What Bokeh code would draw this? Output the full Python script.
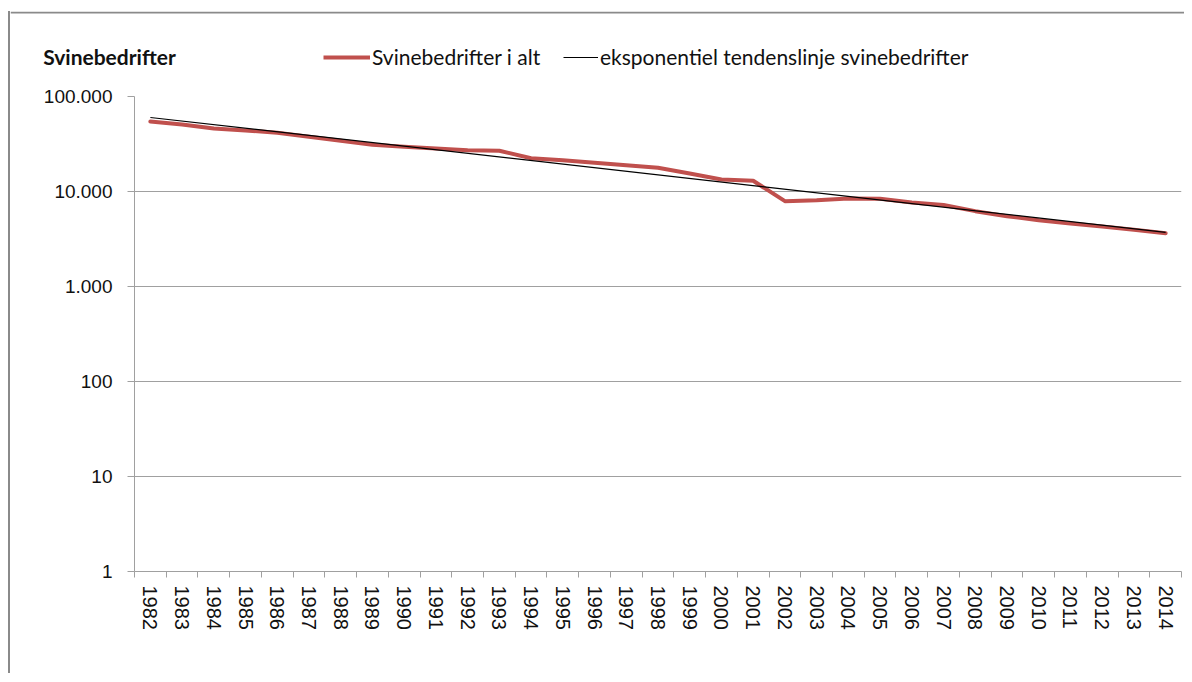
from bokeh.plotting import figure
from bokeh.layouts import column
from bokeh.models import Range1d, FixedTicker, Legend, LegendItem, Label, Span
from bokeh.embed import file_html
from bokeh.resources import INLINE

# ---- data ----
years = list(range(1982, 2015))
svinebedrifter = [54550, 50740, 46030, 43850, 41500, 37670, 34200, 31010, 29540, 28350,
                  27210, 26820, 22410, 21350, 20050, 18920, 17770, 15470, 13380, 12960,
                  7910, 8100, 8440, 8380, 7660, 7210, 6210, 5500, 4990, 4610, 4280, 3950, 3640]
trend_years = [1982, 2014]
trend_values = [60100, 3720]
y_ticks = [1, 10, 100, 1000, 10000, 100000]
y_tick_labels = ["1", "10", "100", "1.000", "10.000", "100.000"]
series_label = "Svinebedrifter i alt"
trend_label = "eksponentiel tendenslinje svinebedrifter"
axis_title = "Svinebedrifter"

GRAY = "#a0a0a0"
TXT = "#111111"
RED = "#c0504d"
BCOL = "#8a8a8a"
BORDER = "2px solid " + BCOL
W = 1176
HEAD_H = 71

# ---------------- header strip: axis title + legend ----------------
head = figure(width=W, height=HEAD_H, x_range=Range1d(0, W), y_range=Range1d(0, HEAD_H),
              x_axis_location=None, y_axis_location=None,
              output_backend="svg", toolbar_location=None,
              min_border_left=0, min_border_right=0, min_border_top=0, min_border_bottom=0)
head.frame_align = False
head.outline_line_color = None
head.grid.visible = False
head.styles = {"border-left": BORDER}
head.margin = (11, 0, 0, 8)
# chart-area top border
head.add_layout(Span(location=HEAD_H - 1, dimension="width", line_color=BCOL, line_width=2))

# legend keys (the real series, clipped out of this strip's range)
k_main = head.line(years, svinebedrifter, line_color=RED, line_width=4)
k_trend = head.line(trend_years, trend_values, line_color="black", line_width=1.2)

head.add_layout(Label(x=32.7, y=26, text=axis_title, text_font="Lato",
                      text_font_style="bold", text_font_size="21px",
                      text_color=TXT, text_baseline="alphabetic"))

def mk_leg(label, rend, loc, gw):
    return Legend(items=[LegendItem(label=label, renderers=[rend])],
                  location=loc, glyph_width=gw, glyph_height=20,
                  label_standoff=2, padding=0, margin=0, spacing=0,
                  border_line_color=None, background_fill_alpha=0,
                  label_text_font="Lato", label_text_font_size="21px",
                  label_text_color=TXT, label_height=20)

head.add_layout(mk_leg(series_label, k_main, (313, 13), 47))
head.add_layout(mk_leg(trend_label, k_trend, (553, 13), 35))

# ---------------- main chart ----------------
p = figure(width=W, height=591,
           x_range=Range1d(years[0] - 0.5, years[-1] + 0.5),
           y_range=Range1d(y_ticks[0], y_ticks[-1]),
           y_axis_type="log",
           output_backend="svg", toolbar_location=None,
           min_border_left=124, min_border_right=5,
           min_border_top=14, min_border_bottom=102)
p.frame_align = False
p.styles = {"border-left": BORDER}
p.margin = (0, 0, 0, 8)
p.outline_line_color = None

yt = FixedTicker(ticks=y_ticks, minor_ticks=[])
p.xgrid.grid_line_color = None
p.ygrid.ticker = yt
p.ygrid.grid_line_color = GRAY
p.ygrid.grid_line_width = 1

ya = p.yaxis[0]
ya.ticker = yt
ya.major_label_overrides = dict(zip(y_ticks, y_tick_labels))
ya.axis_line_color = GRAY
ya.major_tick_line_color = GRAY
ya.major_tick_out = 7
ya.major_tick_in = 0
ya.minor_tick_out = 0
ya.minor_tick_in = 0
ya.major_label_standoff = 15
ya.major_label_text_font = "Liberation Sans"
ya.major_label_text_font_size = "19px"
ya.major_label_text_color = TXT

xa = p.xaxis[0]
xa.ticker = FixedTicker(ticks=years,
                        minor_ticks=[y - 0.5 for y in years] + [years[-1] + 0.5])
xa.axis_line_color = GRAY
xa.major_tick_out = 0
xa.major_tick_in = 0
xa.major_tick_line_color = None
xa.minor_tick_out = 6
xa.minor_tick_in = 0
xa.minor_tick_line_color = GRAY
xa.major_label_orientation = "vertical"
xa.major_label_standoff = 8
xa.major_label_text_font = "Liberation Sans"
xa.major_label_text_font_size = "20px"
xa.major_label_text_color = TXT

r_main = p.line(years, svinebedrifter, line_color=RED, line_width=4,
                line_join="round", line_cap="round")
r_trend = p.line(trend_years, trend_values, line_color="black", line_width=1.2)

layout = column(head, p, spacing=0)
open("out.html", "w").write(file_html(layout, INLINE))
